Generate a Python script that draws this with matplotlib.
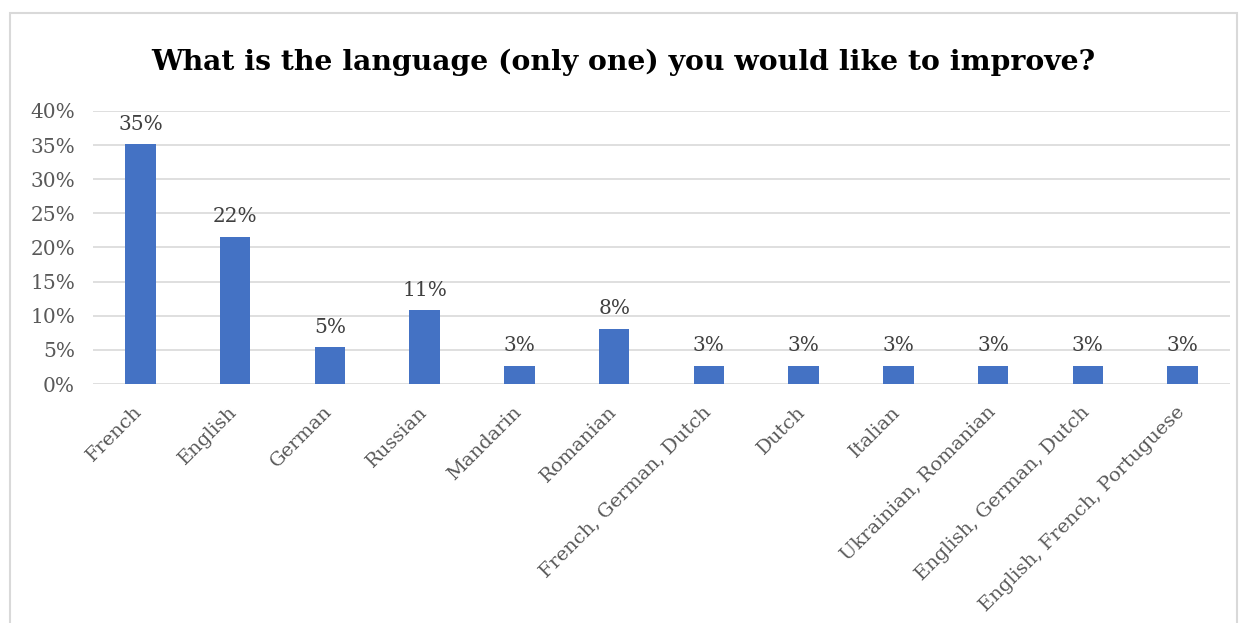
import matplotlib
matplotlib.use("Agg")
import matplotlib.pyplot as plt
from matplotlib.patches import Rectangle
from matplotlib.ticker import PercentFormatter
from matplotlib.transforms import ScaledTranslation

categories = ["French", "English", "German", "Russian", "Mandarin", "Romanian",
              "French, German, Dutch", "Dutch", "Italian", "Ukrainian, Romanian",
              "English, German, Dutch", "English, French, Portuguese"]
values = [35.1, 21.6, 5.4, 10.8, 2.7, 8.1, 2.7, 2.7, 2.7, 2.7, 2.7, 2.7]
title = "What is the language (only one) you would like to improve?"

plt.rcParams['font.family'] = ['DejaVu Serif']

fig = plt.figure(figsize=(12.47, 6.23), dpi=100)
ax = fig.add_axes([93/1247, 1 - 384/623, (1230-93)/1247, (384-111)/623])

x = list(range(len(categories)))
bars = ax.bar(x, values, width=0.32, color="#4472C4", zorder=3)
for xi, v in zip(x, values):
    ax.text(xi, v + 1.5, f"{round(v):d}%", ha="center", va="bottom",
            fontsize=14.5, color="#404040")

ax.set_xlim(-0.5, len(categories) - 0.5)
ax.set_ylim(0, 40)
ax.set_yticks(range(0, 41, 5))
ax.yaxis.set_major_formatter(PercentFormatter(decimals=0))
ax.grid(axis="y", color="#d9d9d9", linewidth=1.2, zorder=0)
for s in ax.spines.values():
    s.set_visible(False)
ax.tick_params(axis="both", length=0, labelsize=14.5, labelcolor="#595959")
ax.tick_params(axis="y", pad=13)
ax.set_xticks(x)
ax.set_xticklabels(categories, rotation=45, ha="right", rotation_mode="anchor",
                   fontsize=14)
ax.tick_params(axis="x", pad=12)
off = ScaledTranslation(-7/100, -2/100, fig.dpi_scale_trans)
for lab in ax.get_xticklabels():
    lab.set_transform(lab.get_transform() + off)

fig.text(0.5, 1 - 62/623, title, ha="center", va="center",
         fontsize=20.3, fontweight="bold", color="black")

fig.add_artist(Rectangle((10/1247, -0.05), (1237-10)/1247, (0.05 + 1 - 13/623),
                         transform=fig.transFigure, fill=False,
                         edgecolor="#d9d9d9", linewidth=1.5))

fig.savefig("out.png", dpi=100)
